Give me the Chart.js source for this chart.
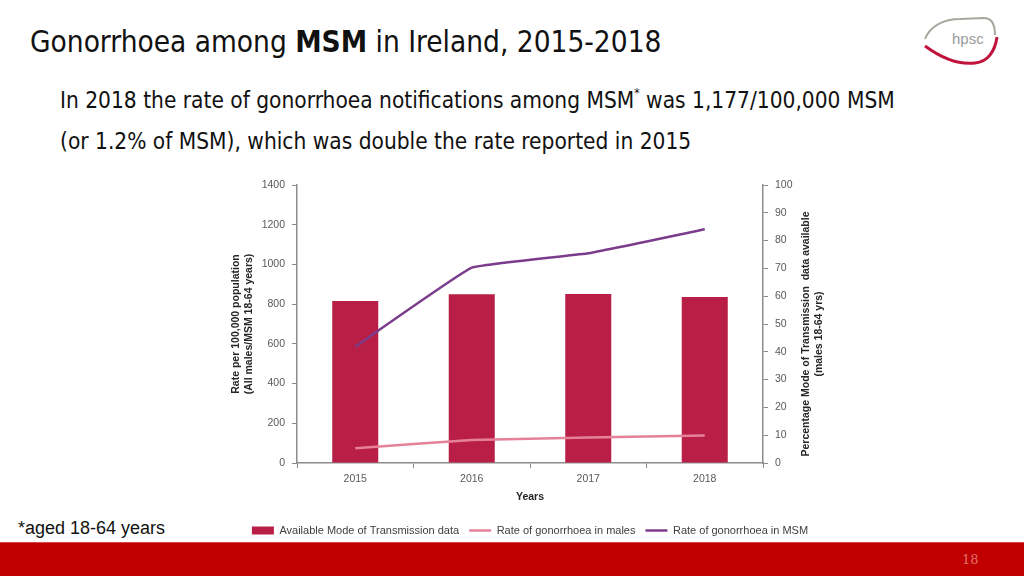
<!DOCTYPE html>
<html>
<head>
<meta charset="utf-8">
<script src="https://cdn.jsdelivr.net/npm/chart.js@4"></script>
<style>
    html, body { margin: 0; padding: 0; background: #fff; }
    body { width: 1024px; height: 576px; position: relative; overflow: hidden; font-family: "Liberation Sans", Arial, sans-serif; }
    .title { position: absolute; left: 30px; top: 25px; font-family: "DejaVu Sans Condensed", "Liberation Sans Narrow", sans-serif; font-size: 29.5px; color: #111; white-space: nowrap; }
    .sub { position: absolute; left: 60px; font-family: "DejaVu Sans Condensed", "Liberation Sans Narrow", sans-serif; font-size: 22.5px; color: #111; white-space: nowrap; }
    .sub sup { font-size: 12px; position: relative; top: -3px; }
    .foot { position: absolute; left: 18px; top: 518px; font-size: 18px; color: #111; }
    .band { position: absolute; left: 0; top: 542px; width: 1024px; height: 34px; background: #c00000; border-top: 1px solid #d84848; }
    .pageno { position: absolute; left: 962px; top: 552px; font-family: "DejaVu Serif", serif; font-size: 13px; color: #e27070; }
    #wrap { position: absolute; left: 200px; top: 170px; }
    .logo { position: absolute; left: 900px; top: 5px; }
</style>
</head>
<body>
<div class="title">Gonorrhoea among <b>MSM</b> in Ireland, 2015-2018</div>
<div class="sub" style="top:87px">In 2018 the rate of gonorrhoea notifications among MSM<sup>*</sup> was 1,177/100,000 MSM</div>
<div class="sub" style="top:128px">(or 1.2% of MSM), which was double the rate reported in 2015</div>

<svg class="logo" width="124" height="70" viewBox="0 0 124 70">
    <path d="M25 34 C30 21, 44 14, 60 14 L84 13 C91 13, 95 19, 95 30" fill="none" stroke="#a7a79f" stroke-width="2"/>
    <path d="M25 41 C40 52, 58 60, 75 58 C88 57, 95 46, 97 32" fill="none" stroke="#c0143c" stroke-width="3"/>
    <text x="52" y="39" font-family="Liberation Sans, sans-serif" font-size="15" fill="#9a9a9a">hpsc</text>
</svg>

<div id="wrap"><canvas id="chart" width="660" height="377"></canvas></div>

<div class="foot">*aged 18-64 years</div>
<div class="band"></div>
<div class="pageno">18</div>

<script>
// Chart data
const years = ['2015', '2016', '2017', '2018'];
const motAvailable = [58.3, 60.7, 60.8, 59.7];   // % mode of transmission available (right axis)
const maleRate = [74, 116, 128, 139];             // rate per 100,000 all males
const msmRate = [586, 984, 1056, 1177];           // rate per 100,000 MSM

const leftTitle = ['Rate per 100,000 population', '(All males/MSM 18-64 years)'];
const rightTitle = ['Percentage Mode of Transmission  data available', '(males 18-64 yrs)'];

const axisColor = '#8c8c8c';
const tickColor = '#595959';
const fontFamily = '"Liberation Sans", Arial, sans-serif';

// Draw the two y axis titles reading bottom to top
const sideTitles = {
    id: 'sideTitles',
    afterDraw(chart) {
        const ctx = chart.ctx;
        const area = chart.chartArea;
        ctx.save();
        ctx.fillStyle = '#262626';
        ctx.font = 'bold 10.5px ' + fontFamily;
        ctx.textAlign = 'center';
        ctx.textBaseline = 'middle';
        const draw = (lines, x, y) => {
            ctx.save();
            ctx.translate(x, y);
            ctx.rotate(-Math.PI / 2);
            lines.forEach((t, i) => ctx.fillText(t, 0, (i - (lines.length - 1) / 2) * 13));
            ctx.restore();
        };
        draw(leftTitle, 43, (area.top + area.bottom) / 2);
        draw(rightTitle, 613, (area.top + area.bottom) / 2 + 10);
        ctx.restore();
    }
};

const ctx = document.getElementById('chart').getContext('2d');

new Chart(ctx, {
    type: 'bar',
    data: {
        labels: years,
        datasets: [
            {
                label: 'Available Mode of Transmission data',
                data: motAvailable,
                backgroundColor: '#b91e46',
                yAxisID: 'y1',
                categoryPercentage: 1,
                barPercentage: 0.395,
                order: 2
            },
            {
                type: 'line',
                label: 'Rate of gonorrhoea in males',
                data: maleRate,
                borderColor: '#e5829a',
                borderWidth: 2.5,
                pointRadius: 0,
                tension: 0.08,
                yAxisID: 'y',
                order: 1
            },
            {
                type: 'line',
                label: 'Rate of gonorrhoea in MSM',
                data: msmRate,
                borderColor: '#7b3d8b',
                borderWidth: 2.5,
                pointRadius: 0,
                tension: 0.08,
                yAxisID: 'y',
                order: 1
            }
        ]
    },
    options: {
        responsive: false,
        animation: false,
        layout: { padding: { top: 15, bottom: 1 } },
        scales: {
            x: {
                grid: { display: true, drawOnChartArea: false, drawTicks: true, tickLength: 5, color: axisColor },
                border: { color: axisColor, width: 1.5 },
                ticks: { color: tickColor, padding: 5, font: { size: 10.5, family: fontFamily } },
                title: {
                    display: true,
                    text: 'Years',
                    color: '#262626',
                    padding: { top: 4, bottom: 12 },
                    font: { size: 10.5, weight: 'bold', family: fontFamily }
                },
                afterFit: (scale) => { scale.height = 52; }
            },
            y: {
                position: 'left',
                min: 0,
                max: 1400,
                grid: { display: true, drawOnChartArea: false, drawTicks: true, tickLength: 5, color: axisColor },
                border: { color: axisColor, width: 1.5 },
                ticks: { stepSize: 200, color: tickColor, padding: 7, font: { size: 10.5, family: fontFamily }, callback: (v) => String(v) },
                afterFit: (scale) => { scale.width = 97; }
            },
            y1: {
                position: 'right',
                min: 0,
                max: 100,
                grid: { display: true, drawOnChartArea: false, drawTicks: true, tickLength: 5, color: axisColor },
                border: { color: axisColor, width: 1.5 },
                ticks: { stepSize: 10, color: tickColor, padding: 7, font: { size: 10.5, family: fontFamily }, callback: (v) => String(v) },
                afterFit: (scale) => { scale.width = 97; }
            }
        },
        plugins: {
            legend: {
                position: 'bottom',
                labels: {
                    usePointStyle: true,
                    pointStyleWidth: 22,
                    boxHeight: 8,
                    padding: 10,
                    color: '#404040',
                    font: { size: 11, family: fontFamily },
                    generateLabels: (chart) => Chart.defaults.plugins.legend.labels.generateLabels(chart)
                        .sort((a, b) => a.datasetIndex - b.datasetIndex)
                        .map((item) => {
                            const ds = chart.data.datasets[item.datasetIndex];
                            if (item.datasetIndex === 0) {
                                item.pointStyle = 'rect';
                                item.fillStyle = ds.backgroundColor;
                                item.lineWidth = 0;
                            } else {
                                item.pointStyle = 'line';
                                item.strokeStyle = ds.borderColor;
                                item.lineWidth = 2.5;
                            }
                            return item;
                        })
                }
            },
            tooltip: { enabled: false }
        }
    },
    plugins: [sideTitles]
});
</script>
</body>
</html>
